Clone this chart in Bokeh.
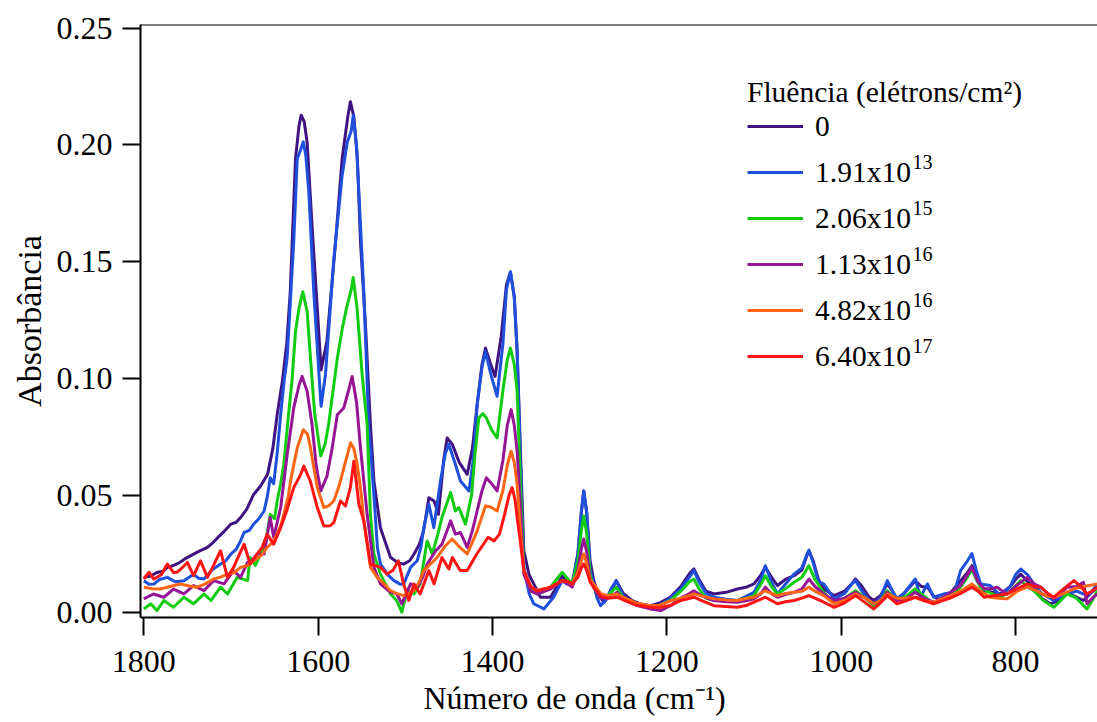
from bokeh.plotting import figure
from bokeh.models import (Range1d, FixedTicker, NumeralTickFormatter, Span, Label,
                          Legend, LegendItem, Title)
from bokeh.embed import file_html
from bokeh.resources import INLINE

FONT = "Liberation Serif"

# Legend entries: fluence mantissa and power-of-ten exponent
fluence_labels = ["0", "1.91x10", "2.06x10", "1.13x10", "4.82x10", "6.40x10"]
fluence_exponents = ["", "13", "15", "16", "16", "17"]
colors = ["#3F1482", "#1E50DC", "#12CC12", "#961496", "#FF6614", "#FF1414"]

x_ticks = [1800, 1600, 1400, 1200, 1000, 800]
y_ticks = [0.0, 0.05, 0.10, 0.15, 0.20, 0.25]

# IR spectra: (wavenumber cm^-1, absorbance)
spec_0 = [
    (1800, 0.0149), (1792, 0.0155), (1785, 0.0170), (1778, 0.0175), (1773, 0.0192), (1766, 0.0200),
    (1760, 0.0210), (1753, 0.0228), (1746, 0.0242), (1737, 0.0260), (1727, 0.0277), (1720, 0.0300),
    (1715, 0.0320), (1708, 0.0345), (1700, 0.0377), (1694, 0.0385), (1689, 0.0405), (1682, 0.0440),
    (1674, 0.0504), (1666, 0.0540), (1658, 0.0590), (1652, 0.0700), (1647, 0.0845), (1641, 0.0990),
    (1636, 0.1150), (1632, 0.1370), (1626, 0.1940), (1622, 0.2080), (1619.5, 0.2127), (1616, 0.2100),
    (1612.6, 0.2010), (1607, 0.1655), (1601, 0.1300), (1596.6, 0.1037), (1590, 0.1158), (1580, 0.1584),
    (1572.5, 0.1940), (1566, 0.2120), (1563, 0.2184), (1559, 0.2120), (1555, 0.1940), (1551.4, 0.1584),
    (1545.7, 0.1229), (1540, 0.0800), (1536, 0.0561), (1528.5, 0.0360), (1517, 0.0235), (1508, 0.0210),
    (1502, 0.0206), (1495, 0.0220), (1490, 0.0249), (1484, 0.0290), (1479, 0.0348), (1473, 0.0490),
    (1467, 0.0476), (1462, 0.0419), (1456, 0.0650), (1452, 0.0746), (1446, 0.0718), (1438, 0.0640),
    (1429, 0.0590), (1423, 0.0700), (1417.6, 0.0888), (1412, 0.1060), (1408, 0.1130), (1402, 0.1060),
    (1397, 0.1009), (1390, 0.1180), (1384, 0.1400), (1379.4, 0.1456), (1375, 0.1350), (1371.7, 0.1115),
    (1368, 0.0700), (1364, 0.0263), (1358, 0.0160), (1352.6, 0.0121), (1345, 0.0064), (1333.5, 0.0064),
    (1326, 0.0110), (1320, 0.0156), (1314, 0.0130), (1308.6, 0.0121), (1302, 0.0250), (1298, 0.0430),
    (1295.3, 0.0519), (1292, 0.0430), (1288, 0.0220), (1283.8, 0.0135), (1278, 0.0070), (1272, 0.0043),
    (1265, 0.0080), (1258, 0.0135), (1250, 0.0080), (1240, 0.0050), (1230, 0.0035), (1219, 0.0028),
    (1208, 0.0040), (1196, 0.0064), (1184, 0.0110), (1174, 0.0165), (1169, 0.0185), (1163, 0.0140),
    (1155, 0.0090), (1146, 0.0078), (1132, 0.0085), (1119, 0.0099), (1108, 0.0108), (1100, 0.0121),
    (1092, 0.0160), (1087, 0.0192), (1080, 0.0150), (1073, 0.0114), (1064, 0.0140), (1054, 0.0156),
    (1045, 0.0180), (1040, 0.0235), (1037, 0.0263), (1032, 0.0220), (1026, 0.0140), (1020, 0.0099),
    (1008, 0.0071), (996, 0.0090), (988, 0.0120), (983.5, 0.0142), (976, 0.0110), (968, 0.0065),
    (962.5, 0.0050), (955, 0.0070), (947, 0.0121), (941, 0.0090), (936, 0.0057), (928, 0.0080),
    (915, 0.0135), (908, 0.0110), (901, 0.0107), (894, 0.0070), (886, 0.0050), (875, 0.0080),
    (863, 0.0135), (855, 0.0170), (850, 0.0199), (843, 0.0140), (836, 0.0092), (826, 0.0085),
    (817, 0.0078), (806, 0.0110), (800, 0.0140), (794, 0.0163), (786, 0.0130), (779, 0.0107),
    (770, 0.0060), (760, 0.0036), (750, 0.0050), (741, 0.0078), (733, 0.0070), (722, 0.0050),
    (714, 0.0080), (706, 0.0107),
]

spec_1 = [
    (1800, 0.0135), (1794, 0.0120), (1788, 0.0121), (1782, 0.0140), (1773, 0.0149), (1764, 0.0130),
    (1754, 0.0135), (1748, 0.0150), (1743, 0.0163), (1737, 0.0145), (1731, 0.0142), (1722, 0.0180),
    (1712, 0.0206), (1706, 0.0220), (1700, 0.0249), (1694, 0.0270), (1689, 0.0305), (1685, 0.0341),
    (1679, 0.0350), (1674, 0.0377), (1668, 0.0400), (1662, 0.0433), (1658, 0.0500), (1655, 0.0575),
    (1651, 0.0550), (1647, 0.0680), (1643, 0.0845), (1639, 0.0990), (1635.6, 0.1087), (1628, 0.1584),
    (1624, 0.1940), (1620, 0.1980), (1617, 0.2013), (1614, 0.1950), (1610.7, 0.1797), (1605, 0.1370),
    (1599, 0.1016), (1596.6, 0.0881), (1591.6, 0.1016), (1582, 0.1513), (1572.5, 0.1868), (1566.7, 0.2010),
    (1562, 0.2060), (1559.8, 0.2127), (1556, 0.2000), (1553.3, 0.1797), (1547.6, 0.1370), (1542, 0.0800),
    (1536, 0.0500), (1532, 0.0277), (1528.5, 0.0206), (1520, 0.0160), (1513, 0.0135), (1506, 0.0120),
    (1501.7, 0.0121), (1494, 0.0192), (1486.4, 0.0220), (1482, 0.0280), (1478.8, 0.0362), (1473, 0.0462),
    (1467.3, 0.0362), (1459.7, 0.0561), (1454, 0.0680), (1450, 0.0718), (1442.5, 0.0632), (1436.7, 0.0561),
    (1427, 0.0519), (1422, 0.0650), (1417.6, 0.0888), (1412, 0.1050), (1408, 0.1115), (1402, 0.1020),
    (1394.7, 0.0924), (1388, 0.1150), (1384, 0.1380), (1379.4, 0.1456), (1375, 0.1350), (1371.7, 0.1115),
    (1368, 0.0650), (1364, 0.0192), (1358, 0.0080), (1352.6, 0.0036), (1341, 0.0014), (1330, 0.0064),
    (1320, 0.0135), (1314, 0.0120), (1308.6, 0.0114), (1302, 0.0250), (1298, 0.0430), (1295.3, 0.0519),
    (1292, 0.0430), (1288, 0.0180), (1284, 0.0121), (1280, 0.0060), (1276, 0.0028), (1270, 0.0050),
    (1264, 0.0100), (1258, 0.0135), (1250, 0.0070), (1240, 0.0040), (1230, 0.0030), (1219, 0.0021),
    (1208, 0.0030), (1196, 0.0060), (1184, 0.0100), (1174, 0.0150), (1169, 0.0178), (1163, 0.0130),
    (1155, 0.0080), (1146, 0.0064), (1132, 0.0055), (1119, 0.0050), (1108, 0.0070), (1100, 0.0085),
    (1092, 0.0140), (1087, 0.0199), (1080, 0.0130), (1073, 0.0078), (1064, 0.0120), (1054, 0.0163),
    (1045, 0.0190), (1040, 0.0240), (1037, 0.0266), (1032, 0.0210), (1026, 0.0130), (1020, 0.0121),
    (1008, 0.0057), (996, 0.0080), (988, 0.0120), (983.5, 0.0135), (976, 0.0090), (968, 0.0050),
    (962.5, 0.0036), (955, 0.0060), (947, 0.0135), (941, 0.0090), (936, 0.0057), (928, 0.0080),
    (915, 0.0142), (909, 0.0064), (901, 0.0121), (894, 0.0064), (880, 0.0080), (870, 0.0085),
    (863, 0.0178), (855, 0.0220), (850, 0.0251), (845, 0.0180), (840, 0.0121), (829, 0.0114),
    (817, 0.0071), (806, 0.0110), (800, 0.0160), (794, 0.0185), (786, 0.0160), (779, 0.0121),
    (770, 0.0080), (756, 0.0050), (741, 0.0078), (730, 0.0090), (722, 0.0078), (714, 0.0080),
    (706, 0.0121),
]

spec_2 = [
    (1800, 0.0014), (1792, 0.0036), (1785, 0.0007), (1777, 0.0050), (1766, 0.0021), (1754, 0.0064),
    (1743, 0.0036), (1731, 0.0078), (1723, 0.0050), (1712, 0.0107), (1704, 0.0078), (1693, 0.0149),
    (1681, 0.0135), (1678, 0.0234), (1672, 0.0200), (1666, 0.0249), (1660, 0.0300), (1655, 0.0419),
    (1650, 0.0400), (1647, 0.0476), (1643, 0.0550), (1639.4, 0.0632), (1634, 0.0845), (1630, 0.0990),
    (1626, 0.1200), (1622, 0.1300), (1617.6, 0.1371), (1612.6, 0.1286), (1608.8, 0.1087), (1604, 0.0850),
    (1597, 0.0668), (1592, 0.0720), (1588, 0.0803), (1578, 0.1087), (1572, 0.1220), (1567.5, 0.1300),
    (1562, 0.1380), (1559.8, 0.1432), (1555.3, 0.1300), (1549.5, 0.1016), (1543.8, 0.0803), (1540, 0.0419),
    (1536, 0.0249), (1528.5, 0.0163), (1517, 0.0078), (1510, 0.0050), (1504, 0.0000), (1498, 0.0092),
    (1490, 0.0078), (1483, 0.0121), (1475, 0.0305), (1469, 0.0249), (1463, 0.0330), (1458, 0.0405),
    (1452, 0.0470), (1448, 0.0512), (1442.5, 0.0433), (1438.6, 0.0448), (1431, 0.0377), (1424, 0.0500),
    (1420, 0.0680), (1415.7, 0.0831), (1411, 0.0850), (1407, 0.0831), (1401, 0.0780), (1394.7, 0.0746),
    (1388, 0.0950), (1383, 0.1080), (1379.4, 0.1130), (1375, 0.1060), (1371.7, 0.0945), (1368, 0.0550),
    (1364, 0.0178), (1356, 0.0100), (1349, 0.0078), (1340, 0.0090), (1333.5, 0.0107), (1320, 0.0171),
    (1313, 0.0140), (1308.6, 0.0121), (1302, 0.0220), (1298, 0.0350), (1295.3, 0.0412), (1292, 0.0340),
    (1288, 0.0160), (1284, 0.0107), (1276, 0.0060), (1268, 0.0070), (1258, 0.0107), (1250, 0.0060),
    (1240, 0.0040), (1230, 0.0030), (1219, 0.0021), (1208, 0.0030), (1196, 0.0050), (1184, 0.0090),
    (1174, 0.0130), (1169, 0.0142), (1163, 0.0100), (1155, 0.0060), (1146, 0.0050), (1132, 0.0050),
    (1119, 0.0050), (1108, 0.0060), (1100, 0.0071), (1092, 0.0120), (1087, 0.0156), (1080, 0.0110),
    (1073, 0.0078), (1064, 0.0100), (1054, 0.0128), (1045, 0.0150), (1037, 0.0199), (1030, 0.0140),
    (1020, 0.0085), (1008, 0.0036), (996, 0.0060), (983.5, 0.0092), (972, 0.0060), (962.5, 0.0028),
    (955, 0.0050), (947, 0.0092), (936, 0.0050), (925, 0.0070), (915, 0.0100), (905, 0.0070),
    (894, 0.0036), (880, 0.0060), (863, 0.0107), (855, 0.0150), (850, 0.0185), (845, 0.0140),
    (840, 0.0107), (828, 0.0080), (817, 0.0064), (806, 0.0090), (794, 0.0135), (786, 0.0110),
    (779, 0.0092), (768, 0.0050), (756, 0.0021), (748, 0.0050), (741, 0.0078), (730, 0.0060),
    (718, 0.0014), (712, 0.0050), (706, 0.0092),
]

spec_3 = [
    (1800, 0.0057), (1789, 0.0078), (1777, 0.0064), (1766, 0.0099), (1754, 0.0078), (1743, 0.0114),
    (1731, 0.0092), (1720, 0.0135), (1708, 0.0121), (1697, 0.0178), (1689, 0.0149), (1681, 0.0213),
    (1676, 0.0220), (1670, 0.0249), (1662, 0.0249), (1655, 0.0405), (1651, 0.0320), (1643, 0.0448),
    (1635.5, 0.0675), (1628, 0.0874), (1622, 0.0970), (1618.4, 0.1009), (1612.6, 0.0945), (1607, 0.0803),
    (1602, 0.0620), (1597, 0.0519), (1590, 0.0580), (1584, 0.0700), (1578, 0.0845), (1570.6, 0.0874),
    (1565, 0.0950), (1561, 0.1009), (1556, 0.0900), (1551.4, 0.0703), (1543.8, 0.0419), (1536, 0.0192),
    (1528.5, 0.0121), (1517, 0.0085), (1510, 0.0080), (1504, 0.0036), (1494, 0.0121), (1486, 0.0107),
    (1480, 0.0150), (1475, 0.0206), (1465, 0.0263), (1458, 0.0291), (1452, 0.0350), (1448, 0.0391),
    (1442.5, 0.0334), (1436.7, 0.0341), (1429, 0.0277), (1423, 0.0350), (1417.6, 0.0433), (1412, 0.0520),
    (1407, 0.0575), (1401, 0.0550), (1394.7, 0.0519), (1388, 0.0650), (1383, 0.0800), (1378.6, 0.0867),
    (1375, 0.0800), (1371.7, 0.0689), (1368, 0.0450), (1364, 0.0163), (1356, 0.0090), (1349, 0.0078),
    (1340, 0.0090), (1333.5, 0.0099), (1320, 0.0135), (1313, 0.0120), (1308.6, 0.0107), (1302, 0.0180),
    (1298, 0.0270), (1295.3, 0.0313), (1292, 0.0260), (1288, 0.0140), (1284, 0.0107), (1276, 0.0060),
    (1268, 0.0060), (1257, 0.0085), (1248, 0.0050), (1235, 0.0030), (1219, 0.0014), (1207, 0.0007),
    (1195, 0.0030), (1184, 0.0060), (1174, 0.0080), (1169, 0.0092), (1160, 0.0070), (1146, 0.0050),
    (1132, 0.0045), (1119, 0.0043), (1108, 0.0050), (1100, 0.0057), (1092, 0.0080), (1087, 0.0107),
    (1080, 0.0080), (1073, 0.0064), (1064, 0.0075), (1054, 0.0085), (1045, 0.0100), (1037, 0.0142),
    (1030, 0.0110), (1020, 0.0078), (1008, 0.0050), (996, 0.0060), (983.5, 0.0085), (972, 0.0060),
    (962.5, 0.0036), (955, 0.0050), (947, 0.0085), (936, 0.0050), (925, 0.0060), (915, 0.0085),
    (905, 0.0060), (894, 0.0043), (880, 0.0070), (863, 0.0114), (855, 0.0160), (850, 0.0192),
    (843, 0.0130), (836, 0.0100), (828, 0.0100), (821, 0.0107), (815, 0.0090), (809.5, 0.0078),
    (800, 0.0110), (786.6, 0.0149), (778, 0.0120), (771, 0.0107), (763, 0.0080), (756, 0.0057),
    (748, 0.0080), (741, 0.0107), (730, 0.0110), (722, 0.0128), (718, 0.0036), (712, 0.0060),
    (706, 0.0078),
]

spec_4 = [
    (1800, 0.0107), (1790, 0.0100), (1781, 0.0099), (1770, 0.0110), (1758, 0.0121), (1748, 0.0112),
    (1739, 0.0107), (1730, 0.0120), (1720, 0.0142), (1712, 0.0150), (1704, 0.0163), (1696, 0.0170),
    (1689, 0.0192), (1681, 0.0200), (1674, 0.0220), (1666, 0.0240), (1658.5, 0.0277), (1652, 0.0300),
    (1647, 0.0334), (1643, 0.0370), (1639.4, 0.0419), (1634, 0.0500), (1631.7, 0.0561), (1624, 0.0703),
    (1617, 0.0781), (1612, 0.0760), (1608.8, 0.0703), (1601, 0.0533), (1593.5, 0.0448), (1588, 0.0455),
    (1582, 0.0476), (1576, 0.0540), (1570.5, 0.0618), (1566, 0.0680), (1562.9, 0.0725), (1559, 0.0700),
    (1555.2, 0.0632), (1551, 0.0520), (1547.6, 0.0391), (1540, 0.0192), (1532.3, 0.0149), (1524, 0.0120),
    (1517, 0.0092), (1510, 0.0080), (1502, 0.0071), (1496, 0.0080), (1490, 0.0092), (1484, 0.0130),
    (1479, 0.0178), (1470, 0.0210), (1463.5, 0.0234), (1455, 0.0280), (1446.3, 0.0313), (1438, 0.0280),
    (1429, 0.0249), (1423, 0.0300), (1417.6, 0.0348), (1412, 0.0410), (1408, 0.0455), (1402, 0.0450),
    (1394.7, 0.0433), (1388, 0.0520), (1383, 0.0630), (1378.6, 0.0689), (1375, 0.0640), (1371.7, 0.0547),
    (1368, 0.0350), (1364, 0.0178), (1356, 0.0110), (1349, 0.0092), (1340, 0.0100), (1333.5, 0.0107),
    (1320, 0.0135), (1313, 0.0130), (1308.6, 0.0121), (1302, 0.0170), (1298, 0.0220), (1295.3, 0.0249),
    (1292, 0.0210), (1288, 0.0140), (1284, 0.0121), (1276, 0.0080), (1268, 0.0070), (1257, 0.0078),
    (1248, 0.0060), (1235, 0.0040), (1219, 0.0028), (1208, 0.0030), (1195, 0.0050), (1184, 0.0060),
    (1169, 0.0078), (1160, 0.0070), (1146, 0.0057), (1132, 0.0052), (1119, 0.0050), (1108, 0.0060),
    (1100, 0.0064), (1087, 0.0092), (1080, 0.0080), (1073, 0.0071), (1064, 0.0080), (1054, 0.0085),
    (1045, 0.0090), (1037, 0.0107), (1030, 0.0090), (1020, 0.0071), (1008, 0.0036), (996, 0.0050),
    (983.5, 0.0078), (972, 0.0060), (962.5, 0.0036), (955, 0.0050), (947, 0.0078), (936, 0.0060),
    (925, 0.0060), (915, 0.0064), (905, 0.0050), (894, 0.0043), (875, 0.0070), (863, 0.0090),
    (850, 0.0121), (840, 0.0090), (829, 0.0064), (819, 0.0060), (809.5, 0.0057), (798, 0.0090),
    (786.6, 0.0107), (775, 0.0090), (765, 0.0070), (756, 0.0064), (745, 0.0080), (733, 0.0100),
    (722, 0.0110), (714, 0.0115), (706, 0.0121),
]

spec_5 = [
    (1800, 0.0142), (1794, 0.0171), (1788.5, 0.0142), (1780, 0.0160), (1773, 0.0206), (1766, 0.0170),
    (1762, 0.0171), (1756, 0.0190), (1750, 0.0213), (1743, 0.0156), (1735, 0.0220), (1727, 0.0149),
    (1720, 0.0200), (1712, 0.0263), (1704, 0.0149), (1697, 0.0192), (1685, 0.0291), (1678, 0.0206),
    (1670, 0.0249), (1664, 0.0280), (1658.5, 0.0334), (1651, 0.0291), (1643, 0.0362), (1635.5, 0.0440),
    (1628, 0.0533), (1620, 0.0590), (1616.4, 0.0625), (1609, 0.0561), (1601, 0.0448), (1593.5, 0.0369),
    (1586, 0.0370), (1582, 0.0384), (1574.4, 0.0476), (1568.6, 0.0455), (1563, 0.0533), (1559, 0.0646),
    (1553.3, 0.0462), (1547.6, 0.0391), (1540, 0.0206), (1528.5, 0.0192), (1521, 0.0163), (1514, 0.0180),
    (1508, 0.0220), (1502, 0.0121), (1496, 0.0050), (1490, 0.0121), (1483, 0.0078), (1473, 0.0178),
    (1467, 0.0121), (1458, 0.0234), (1450, 0.0185), (1446, 0.0234), (1437, 0.0178), (1429, 0.0178),
    (1418, 0.0249), (1405, 0.0320), (1398, 0.0305), (1392, 0.0334), (1386, 0.0420), (1381, 0.0500),
    (1377.5, 0.0533), (1374, 0.0480), (1371.7, 0.0405), (1368, 0.0300), (1364, 0.0178), (1356, 0.0110),
    (1349, 0.0092), (1340, 0.0100), (1333.5, 0.0107), (1320, 0.0135), (1313, 0.0130), (1308.6, 0.0121),
    (1302, 0.0150), (1298, 0.0190), (1295.3, 0.0206), (1292, 0.0180), (1288, 0.0130), (1284, 0.0107),
    (1276, 0.0070), (1268, 0.0060), (1257, 0.0064), (1248, 0.0050), (1235, 0.0030), (1219, 0.0021),
    (1208, 0.0020), (1195, 0.0030), (1184, 0.0050), (1169, 0.0064), (1160, 0.0050), (1146, 0.0028),
    (1132, 0.0024), (1119, 0.0021), (1108, 0.0030), (1100, 0.0043), (1087, 0.0064), (1080, 0.0050),
    (1073, 0.0036), (1064, 0.0045), (1054, 0.0050), (1045, 0.0060), (1037, 0.0071), (1030, 0.0060),
    (1020, 0.0043), (1008, 0.0021), (996, 0.0040), (983.5, 0.0071), (972, 0.0040), (962.5, 0.0014),
    (955, 0.0040), (947, 0.0071), (936, 0.0036), (925, 0.0050), (915, 0.0064), (905, 0.0050),
    (894, 0.0036), (875, 0.0060), (863, 0.0080), (850, 0.0107), (843, 0.0090), (836, 0.0064),
    (825, 0.0070), (809.5, 0.0078), (798, 0.0100), (786.6, 0.0121), (778, 0.0110), (771, 0.0107),
    (763, 0.0080), (756, 0.0064), (745, 0.0100), (733, 0.0135), (725, 0.0110), (718, 0.0078),
    (712, 0.0090), (706, 0.0107),
]

spectra = [spec_0, spec_1, spec_2, spec_3, spec_4, spec_5]

# Plot frame geometry (pixels) and data ranges
W, H = 1097, 722
FRAME_L, FRAME_R, FRAME_T, FRAME_B = 140, 1097, 24, 617
X_START, X_END = 1803.8, 705.9
Y_START, Y_END = -0.00227, 0.2515


def wn_at(px):
    return X_START + (px - FRAME_L) * (X_END - X_START) / (FRAME_R - FRAME_L)


def ab_at(py):
    return Y_END - (py - FRAME_T) * (Y_END - Y_START) / (FRAME_B - FRAME_T)


p = figure(width=W, height=H, output_backend="svg", toolbar_location=None,
           x_range=Range1d(X_START, X_END), y_range=Range1d(Y_START, Y_END),
           min_border_left=FRAME_L, min_border_right=0, min_border_top=FRAME_T,
           min_border_bottom=H - FRAME_B)
p.outline_line_color = None
p.xgrid.grid_line_color = None
p.ygrid.grid_line_color = None
p.background_fill_color = "white"
p.border_fill_color = "white"

renderers = []
for spec, col in zip(spectra, colors):
    xs = [pt[0] for pt in spec]
    ys = [pt[1] for pt in spec]
    renderers.append(p.line(xs, ys, line_color=col, line_width=3, line_join="round"))

# axes
for ax in (p.xaxis[0], p.yaxis[0]):
    ax.axis_line_width = 2
    ax.axis_line_color = "black"
    ax.major_tick_line_width = 2
    ax.major_tick_line_color = "black"
    ax.major_tick_out = 18
    ax.major_tick_in = 0
    ax.minor_tick_line_color = None
    ax.major_label_text_font = FONT
    ax.major_label_text_font_size = "32px"
    ax.major_label_text_color = "black"

p.xaxis[0].ticker = FixedTicker(ticks=x_ticks)
p.xaxis[0].major_label_standoff = 15
p.yaxis[0].ticker = FixedTicker(ticks=y_ticks)
p.yaxis[0].formatter = NumeralTickFormatter(format="0.00")
p.yaxis[0].major_label_standoff = 10
p.yaxis[0].axis_label = "Absorbância"
p.yaxis[0].axis_label_text_font = FONT
p.yaxis[0].axis_label_text_font_size = "34px"
p.yaxis[0].axis_label_text_font_style = "normal"
p.yaxis[0].axis_label_text_color = "black"
p.yaxis[0].axis_label_standoff = 6

# top border line of the frame
p.add_layout(Span(location=Y_END, dimension="width", line_color="black", line_width=2))

# x-axis title, set below the tick labels
x_title = Title(text="Número de onda (cm⁻¹)", align="left", offset=283, standoff=10,
                vertical_align="top", text_font=FONT, text_font_size="32px",
                text_font_style="normal", text_color="black")
p.add_layout(x_title, "below")

# legend
items = [LegendItem(label=lab, renderers=[r]) for lab, r in zip(fluence_labels, renderers)]
legend = Legend(items=items, title="Fluência (elétrons/cm²)", location=(607, 244))
legend.title_text_font = FONT
legend.title_text_font_size = "29.5px"
legend.title_text_font_style = "normal"
legend.title_text_color = "black"
legend.title_standoff = 0
legend.label_text_font = FONT
legend.label_text_font_size = "29.5px"
legend.label_text_color = "black"
legend.glyph_width = 56
legend.glyph_height = 34
legend.label_height = 34
legend.spacing = 12
legend.padding = 0
legend.margin = 0
legend.label_standoff = 12
legend.border_line_color = None
legend.background_fill_alpha = 0
p.add_layout(legend)

# exponents next to the legend labels
ROW0_Y, ROW_PITCH = 126, 46
for i, exp in enumerate(fluence_exponents):
    if exp:
        p.add_layout(Label(x=wn_at(912), y=ab_at(ROW0_Y + ROW_PITCH * i - 11), text=exp,
                           text_align="left", text_baseline="alphabetic", text_font=FONT,
                           text_font_size="20px", text_color="black"))

open("out.html", "w").write(file_html(p, INLINE))
